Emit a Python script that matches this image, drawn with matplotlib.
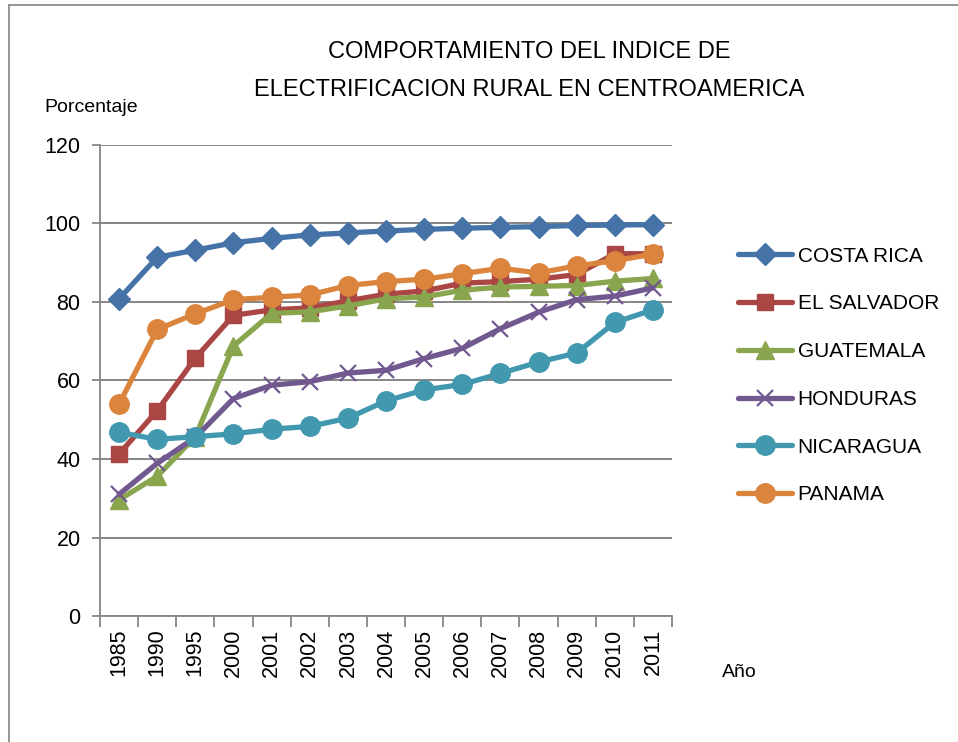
import numpy as np
import matplotlib
matplotlib.use("Agg")
import matplotlib.pyplot as plt
from matplotlib import font_manager
from matplotlib.lines import Line2D

## data
years = ["1985", "1990", "1995", "2000", "2001", "2002", "2003", "2004",
         "2005", "2006", "2007", "2008", "2009", "2010", "2011"]
costa_rica = [80.8, 91.4, 93.2, 95.1, 96.2, 97.1, 97.6, 98.1, 98.5, 98.8, 99.0, 99.2, 99.5, 99.6, 99.7]
el_salvador = [41.3, 52.3, 65.7, 76.6, 78.0, 78.5, 80.3, 82.0, 82.8, 84.8, 85.2, 85.8, 87.0, 92.3, 92.3]
guatemala = [29.6, 35.6, 45.7, 68.8, 77.1, 77.5, 79.0, 80.8, 81.3, 83.0, 83.8, 84.0, 84.2, 85.3, 86.0]
honduras = [31.0, 38.9, 45.5, 55.4, 58.8, 59.7, 61.9, 62.6, 65.6, 68.2, 73.2, 77.4, 80.6, 81.5, 83.6]
nicaragua = [46.8, 45.0, 45.7, 46.4, 47.6, 48.3, 50.4, 54.8, 57.6, 59.0, 61.8, 64.7, 67.0, 74.8, 78.0]
panama = [54.0, 73.0, 77.0, 80.6, 81.2, 81.8, 84.2, 85.2, 85.8, 87.2, 88.6, 87.4, 89.2, 90.5, 92.2]

series = [
    ("COSTA RICA", costa_rica, "#4572A7", "D", 11),
    ("EL SALVADOR", el_salvador, "#AA4643", "s", 12),
    ("GUATEMALA", guatemala, "#89A54E", "^", 13),
    ("HONDURAS", honduras, "#71588F", "x", 12),
    ("NICARAGUA", nicaragua, "#4198AF", "o", 14),
    ("PANAMA", panama, "#DB843D", "o", 14),
]

names = {f.name for f in font_manager.fontManager.ttflist}
base_font = "Liberation Sans" if "Liberation Sans" in names else "DejaVu Sans"
plt.rcParams["font.family"] = base_font

fig = plt.figure(figsize=(9.58, 7.42), dpi=100)
ax = fig.add_axes([0.1044, 0.1698, 0.5971, 0.6348])

x = np.arange(len(years))
for name, vals, col, mk, ms in series:
    if mk == "x":
        ax.plot(x, vals, color=col, lw=3.8, marker=mk, ms=ms, mew=1.6,
                label=name, solid_capstyle="round")
    else:
        ax.plot(x, vals, color=col, lw=3.8, marker=mk, ms=ms, mec=col,
                label=name, solid_capstyle="round")

ax.set_xlim(-0.5, len(years) - 0.5)
ax.set_ylim(0, 120)
ax.set_yticks(np.arange(0, 121, 20))
ax.yaxis.grid(True, color="#868686", lw=1.4)
ax.set_axisbelow(True)

ax.set_xticks(x)
ax.set_xticklabels(years, rotation=90, fontsize=15.5)
ax.tick_params(axis="x", which="major", length=0, pad=9)
ax.set_xticks(np.arange(-0.5, len(years), 1.0), minor=True)
ax.tick_params(axis="x", which="minor", length=8, width=1.3, color="#868686", direction="out")
ax.tick_params(axis="y", length=6, width=1.3, color="#868686", labelsize=15.5, pad=8)

for s in ["top", "right"]:
    ax.spines[s].set_visible(False)
for s in ["left", "bottom"]:
    ax.spines[s].set_color("#868686")
    ax.spines[s].set_linewidth(1.3)

fig.text(0.552, 0.930, "COMPORTAMIENTO DEL INDICE DE", ha="center", va="center", fontsize=17)
fig.text(0.552, 0.879, "ELECTRIFICACION RURAL EN CENTROAMERICA", ha="center", va="center",
         fontsize=17)
fig.text(0.046, 0.855, "Porcentaje", ha="left", va="center", fontsize=14)
fig.text(0.754, 0.093, "Año", ha="left", va="center", fontsize=14)

fig.legend(loc="center left", bbox_to_anchor=(0.751, 0.494), frameon=False,
           fontsize=15, labelspacing=1.38, handlelength=2.6, handletextpad=0.25,
           markerscale=1.0)

# outer chart border
fig.add_artist(Line2D([0.0095, 0.0095], [0.0, 0.993], transform=fig.transFigure,
                      color="#8c8c8c", lw=1.3))
fig.add_artist(Line2D([0.0095, 1.0], [0.993, 0.993], transform=fig.transFigure,
                      color="#8c8c8c", lw=1.3))

plt.savefig("out.png", dpi=100)
